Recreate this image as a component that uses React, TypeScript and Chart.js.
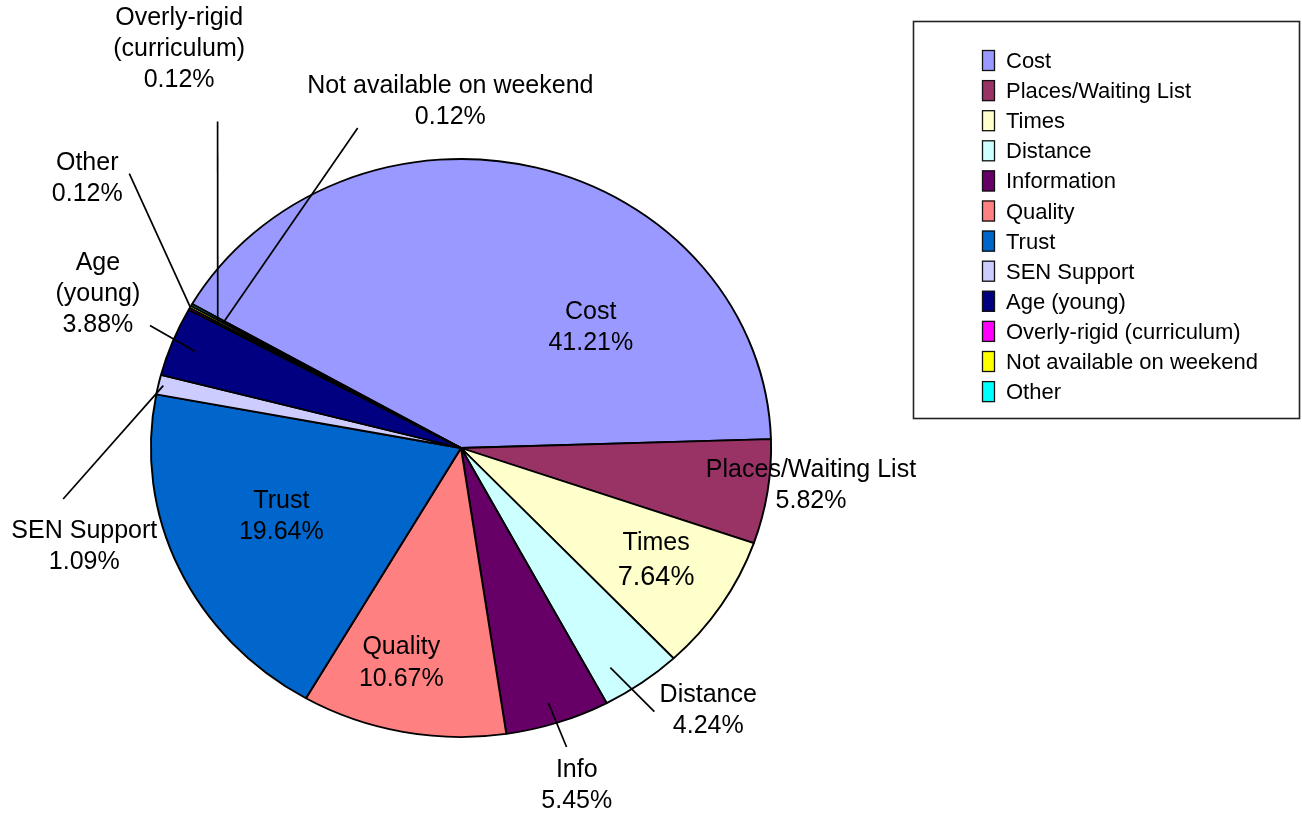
import React, { useEffect, useRef } from "react";
import { Chart, registerables } from "chart.js";

Chart.register(...registerables);

// ---- data ----
const categories = [
  "Cost",
  "Places/Waiting List",
  "Times",
  "Distance",
  "Information",
  "Quality",
  "Trust",
  "SEN Support",
  "Age (young)",
  "Overly-rigid (curriculum)",
  "Not available on weekend",
  "Other",
];
const percentages = [41.21, 5.82, 7.64, 4.24, 5.45, 10.67, 19.64, 1.09, 3.88, 0.12, 0.12, 0.12];
const pieLabelNames = [
  ["Cost"],
  ["Places/Waiting List"],
  ["Times"],
  ["Distance"],
  ["Info"],
  ["Quality"],
  ["Trust"],
  ["SEN Support"],
  ["Age", "(young)"],
  ["Overly-rigid", "(curriculum)"],
  ["Not available on weekend"],
  ["Other"],
];
const sliceColors = [
  "#9999FF", "#993366", "#FFFFCC", "#CCFFFF", "#660066", "#FF8080",
  "#0066CC", "#CCCCFF", "#000080", "#FF00FF", "#FFFF00", "#00FFFF",
];

// ---- layout / style (not data) ----
const X_STRETCH = 1.073;
const FONT = '"Liberation Sans", Arial, sans-serif';
// label placement relative to slice mid-angle: dTheta (deg, clockwise), radius factor
type Place = { d: number; rf: number; sizes?: number[]; gap?: number; leader?: [number, number, number, number] };
const placements: Place[] = [
  { d: 31.1, rf: 0.59 },
  { d: -2.2, rf: 1.136 },
  { d: -1.2, rf: 0.74, sizes: [25, 27], gap: 34 },
  { d: -5.6, rf: 1.209, leader: [3.3, 0.9, 1.3, 1.105] },
  { d: 0.5, rf: 1.227, leader: [0.5, 0.926, 0.0, 1.089] },
  { d: 3.7, rf: 0.769, gap: 32 },
  { d: 2.4, rf: 0.626 },
  { d: -28.4, rf: 1.262, leader: [0.0, 0.984, -20.5, 1.295] },
  { d: 2.8, rf: 1.286, leader: [-0.3, 0.921, 1.3, 1.089] },
  { d: 27.8, rf: 1.652, leader: [-0.4, 0.892, 26.4, 1.376] },
  { d: 59.1, rf: 1.198, leader: [0.1, 0.881, 44.0, 1.156] },
  { d: 8.0, rf: 1.523, leader: [-0.5, 1.0, 11.9, 1.43] },
];

const toRad = (d: number) => (d * Math.PI) / 180;

function polar(cx: number, cy: number, r: number, ang: number, rf: number): [number, number] {
  return [cx + X_STRETCH * r * rf * Math.cos(ang), cy + r * rf * Math.sin(ang)];
}

const ellipsePlugin = {
  id: "ellipse",
  beforeDatasetsDraw(chart: any) {
    const arc = chart.getDatasetMeta(0).data[0] as any;
    const ctx = chart.ctx;
    ctx.save();
    ctx.translate(arc.x, arc.y);
    ctx.scale(X_STRETCH, 1);
    ctx.translate(-arc.x, -arc.y);
  },
  afterDatasetsDraw(chart: any) {
    chart.ctx.restore();
  },
};

const labelPlugin = {
  id: "sliceLabels",
  afterDraw(chart: any) {
    const ctx: CanvasRenderingContext2D = chart.ctx;
    const meta = chart.getDatasetMeta(0);
    const values = chart.data.datasets[0].data as number[];
    ctx.save();
    meta.data.forEach((el: any, i: number) => {
      const { x, y, startAngle, endAngle, outerRadius } = el.getProps(
        ["x", "y", "startAngle", "endAngle", "outerRadius"], true
      );
      const mid = (startAngle + endAngle) / 2;
      const p = placements[i];
      const lines = [...pieLabelNames[i], values[i].toFixed(2) + "%"];
      const sizes = p.sizes || lines.map(() => 25);
      const gap = p.gap || 31;
      const [lx, ly] = polar(x, y, outerRadius, mid + toRad(p.d), p.rf);
      if (p.leader) {
        const [a1, r1, a2, r2] = p.leader;
        const [x1, y1] = polar(x, y, outerRadius, mid + toRad(a1), r1);
        const [x2, y2] = polar(x, y, outerRadius, mid + toRad(a2), r2);
        ctx.strokeStyle = "#000";
        ctx.lineWidth = 1.7;
        ctx.beginPath();
        ctx.moveTo(x1, y1);
        ctx.lineTo(x2, y2);
        ctx.stroke();
      }
      ctx.fillStyle = "#000";
      ctx.textAlign = "center";
      ctx.textBaseline = "middle";
      const top = ly - ((lines.length - 1) * gap) / 2;
      lines.forEach((t, k) => {
        ctx.font = `${sizes[k]}px ${FONT}`;
        ctx.fillText(t, lx, top + k * gap);
      });
    });
    ctx.restore();
  },
};

const legendPlugin = {
  id: "boxLegend",
  afterDraw(chart: any) {
    const ctx: CanvasRenderingContext2D = chart.ctx;
    const labels = chart.data.labels as string[];
    const colors = chart.data.datasets[0].backgroundColor as string[];
    ctx.save();
    ctx.strokeStyle = "#222";
    ctx.lineWidth = 1.6;
    ctx.strokeRect(913.5, 21.5, 386, 397);
    ctx.font = `22px ${FONT}`;
    ctx.textAlign = "left";
    ctx.textBaseline = "middle";
    labels.forEach((lab, i) => {
      const ty = 62 + i * 30.1;
      ctx.fillStyle = colors[i];
      ctx.fillRect(982, ty - 12, 13, 21);
      ctx.strokeStyle = "#111";
      ctx.lineWidth = 1.3;
      ctx.strokeRect(982.5, ty - 11.5, 12, 20);
      ctx.fillStyle = "#000";
      ctx.fillText(lab, 1006, ty);
    });
    ctx.restore();
  },
};

export default function App() {
  const ref = useRef<HTMLCanvasElement | null>(null);
  useEffect(() => {
    document.body.style.margin = "0";
    const canvas = ref.current;
    if (!canvas) return;
    const chart = new Chart(canvas, {
      type: "pie",
      data: {
        labels: categories,
        datasets: [
          {
            data: percentages,
            backgroundColor: sliceColors,
            borderColor: "#000",
            borderWidth: 1.8,
          },
        ],
      },
      options: {
        animation: false,
        responsive: false,
        rotation: -60.1,
        radius: 289,
        layout: { padding: { left: 161, right: 541, top: 148, bottom: 67 } },
        plugins: {
          legend: { display: false },
          tooltip: { enabled: false },
        },
      },
      plugins: [ellipsePlugin, labelPlugin, legendPlugin],
    });
    return () => chart.destroy();
  }, []);
  return (
    <div style={{ position: "absolute", left: 0, top: 0, width: 1302, height: 815, background: "#fff" }}>
      <canvas ref={ref} width={1302} height={815} />
    </div>
  );
}
